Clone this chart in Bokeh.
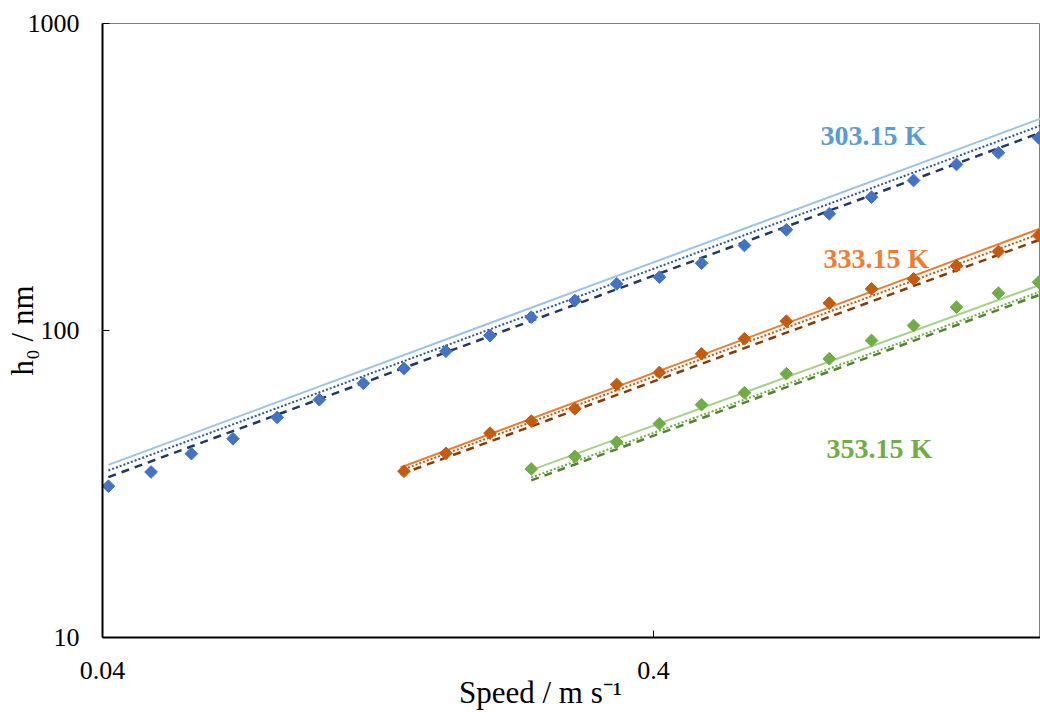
import math
from bokeh.plotting import figure
from bokeh.models import Range1d, FixedTicker, Label
from bokeh.embed import file_html
from bokeh.resources import INLINE

# ---------------- data ----------------
speed = [0.041, 0.049, 0.058, 0.069, 0.083, 0.099, 0.119, 0.141, 0.168, 0.202,
         0.240, 0.288, 0.343, 0.410, 0.489, 0.585, 0.697, 0.834, 0.995, 1.186,
         1.419, 1.691, 2.000]

h_303 = [31.1, 34.6, 39.7, 44.4, 52.1, 59.5, 67.3, 75.2, 85.6, 96.3,
         110.5, 125.2, 141.9, 149.2, 165.6, 189.2, 212.8, 240.0, 271.8, 308.1,
         347.3, 379.3, 424.4]

speed_333 = speed[7:]
h_333 = [34.8, 39.8, 46.3, 50.7, 55.6, 66.7, 73.0, 84.0, 94.0, 107.2,
         122.7, 136.7, 147.2, 162.4, 180.8, 203.9]

speed_353 = speed[10:]
h_353 = [35.4, 38.9, 43.3, 49.7, 57.3, 62.7, 72.3, 80.9, 92.8, 103.8,
         119.1, 132.3, 143.6]

# model curves (straight lines in log-log), start / end values
fit_speed_303 = [0.041, 2.016]
fit_303_solid = [36.5, 490.0]
fit_303_dot = [35.0, 465.0]
fit_303_dash = [33.3, 441.0]

fit_speed_333 = [0.139, 2.016]
fit_333_solid = [35.8, 215.0]
fit_333_dot = [35.0, 207.0]
fit_333_dash = [34.0, 198.0]

fit_speed_353 = [0.240, 2.016]
fit_353_solid = [35.1, 141.0]
fit_353_dot = [33.2, 134.0]
fit_353_dash = [32.5, 131.0]

x_ticks = [0.04, 0.4, 4]
x_tick_labels = ["0.04", "0.4", "4"]
y_ticks = [10, 100, 1000]
y_tick_labels = ["10", "100", "1000"]

# the visible plot is cropped on the right, so the title sits left of the
# frame centre: trailing no-break spaces shift it there
x_title = "Speed / m s\u207b\u00b9" + "\u00a0" * 8
y_title = "h\u2080 / nm"

# ---------------- figure ----------------
X0, X1 = 0.04, 2.016
Y0, Y1 = 10, 1000
L, T, B = 102, 23, 75
W, H = 1040, 712
FW = W - L
FH = H - T - B

p = figure(width=W, height=H, x_axis_type="log", y_axis_type="log",
           x_range=Range1d(X0, X1), y_range=Range1d(Y0, Y1),
           output_backend="svg", toolbar_location=None,
           min_border_left=L, min_border_right=0, min_border_top=T,
           min_border_bottom=B)
p.grid.visible = False
p.outline_line_color = "#808080"
p.outline_line_width = 1
p.background_fill_color = "white"
p.border_fill_color = "white"

FONT = "Liberation Serif"
for ax in (p.xaxis[0], p.yaxis[0]):
    ax.axis_line_color = "black"
    ax.axis_line_width = 2
    ax.major_tick_in = 7
    ax.major_tick_out = 0
    ax.major_tick_line_color = "black"
    ax.minor_tick_line_color = None
    ax.major_label_text_font = FONT
    ax.major_label_text_font_size = "26px"
    ax.major_label_text_color = "black"
    ax.axis_label_text_font = FONT
    ax.axis_label_text_font_size = "31px"
    ax.axis_label_text_font_style = "normal"
    ax.axis_label_text_color = "black"

p.xaxis.ticker = FixedTicker(ticks=x_ticks)
p.xaxis.major_label_overrides = dict(zip(x_ticks, x_tick_labels))
p.xaxis.major_label_standoff = 24
p.xaxis.axis_label = x_title
p.xaxis.axis_label_standoff = -7

p.yaxis.ticker = FixedTicker(ticks=y_ticks)
p.yaxis.major_label_overrides = dict(zip(y_ticks, y_tick_labels))
p.yaxis.major_label_standoff = 23
p.yaxis.axis_label = y_title
p.yaxis.axis_label_standoff = -15


def dx(px):
    return X0 * 10 ** ((px - L) / FW * math.log10(X1 / X0))


def dy(py):
    return Y1 / 10 ** ((py - T) / FH * math.log10(Y1 / Y0))


# ---------------- model lines ----------------
def model(xs, solid, dot, dash, c_solid, c_dot, c_dash):
    p.line(xs, solid, line_color=c_solid, line_width=2)
    p.line(xs, dot, line_color=c_dot, line_width=2, line_dash="2 2")
    p.line(xs, dash, line_color=c_dash, line_width=2.5, line_dash="8 6")


model(fit_speed_303, fit_303_solid, fit_303_dot, fit_303_dash,
      "#9DC3E6", "#2F5597", "#1F3864")
model(fit_speed_333, fit_333_solid, fit_333_dot, fit_333_dash,
      "#ED7D31", "#C55A11", "#843C0C")
model(fit_speed_353, fit_353_solid, fit_353_dot, fit_353_dash,
      "#A9D18E", "#70AD47", "#548235")

# ---------------- measured points ----------------
for xs, ys, c in ((speed, h_303, "#4472C4"),
                  (speed_333, h_333, "#C55A11"),
                  (speed_353, h_353, "#70AD47")):
    p.scatter(xs, ys, marker="square", size=9, angle=math.pi / 4,
              fill_color=c, line_color=c)

# ---------------- series labels ----------------
for txt, px, py, c in (("303.15 K", 873, 135, "#5B9BD5"),
                       ("333.15 K", 876, 258, "#ED7D31"),
                       ("353.15 K", 879, 448, "#70AD47")):
    p.add_layout(Label(x=dx(px), y=dy(py), text=txt, text_align="center",
                       text_baseline="alphabetic", text_font=FONT,
                       text_font_style="bold", text_font_size="28px",
                       text_color=c))

open("out.html", "w").write(file_html(p, INLINE))
